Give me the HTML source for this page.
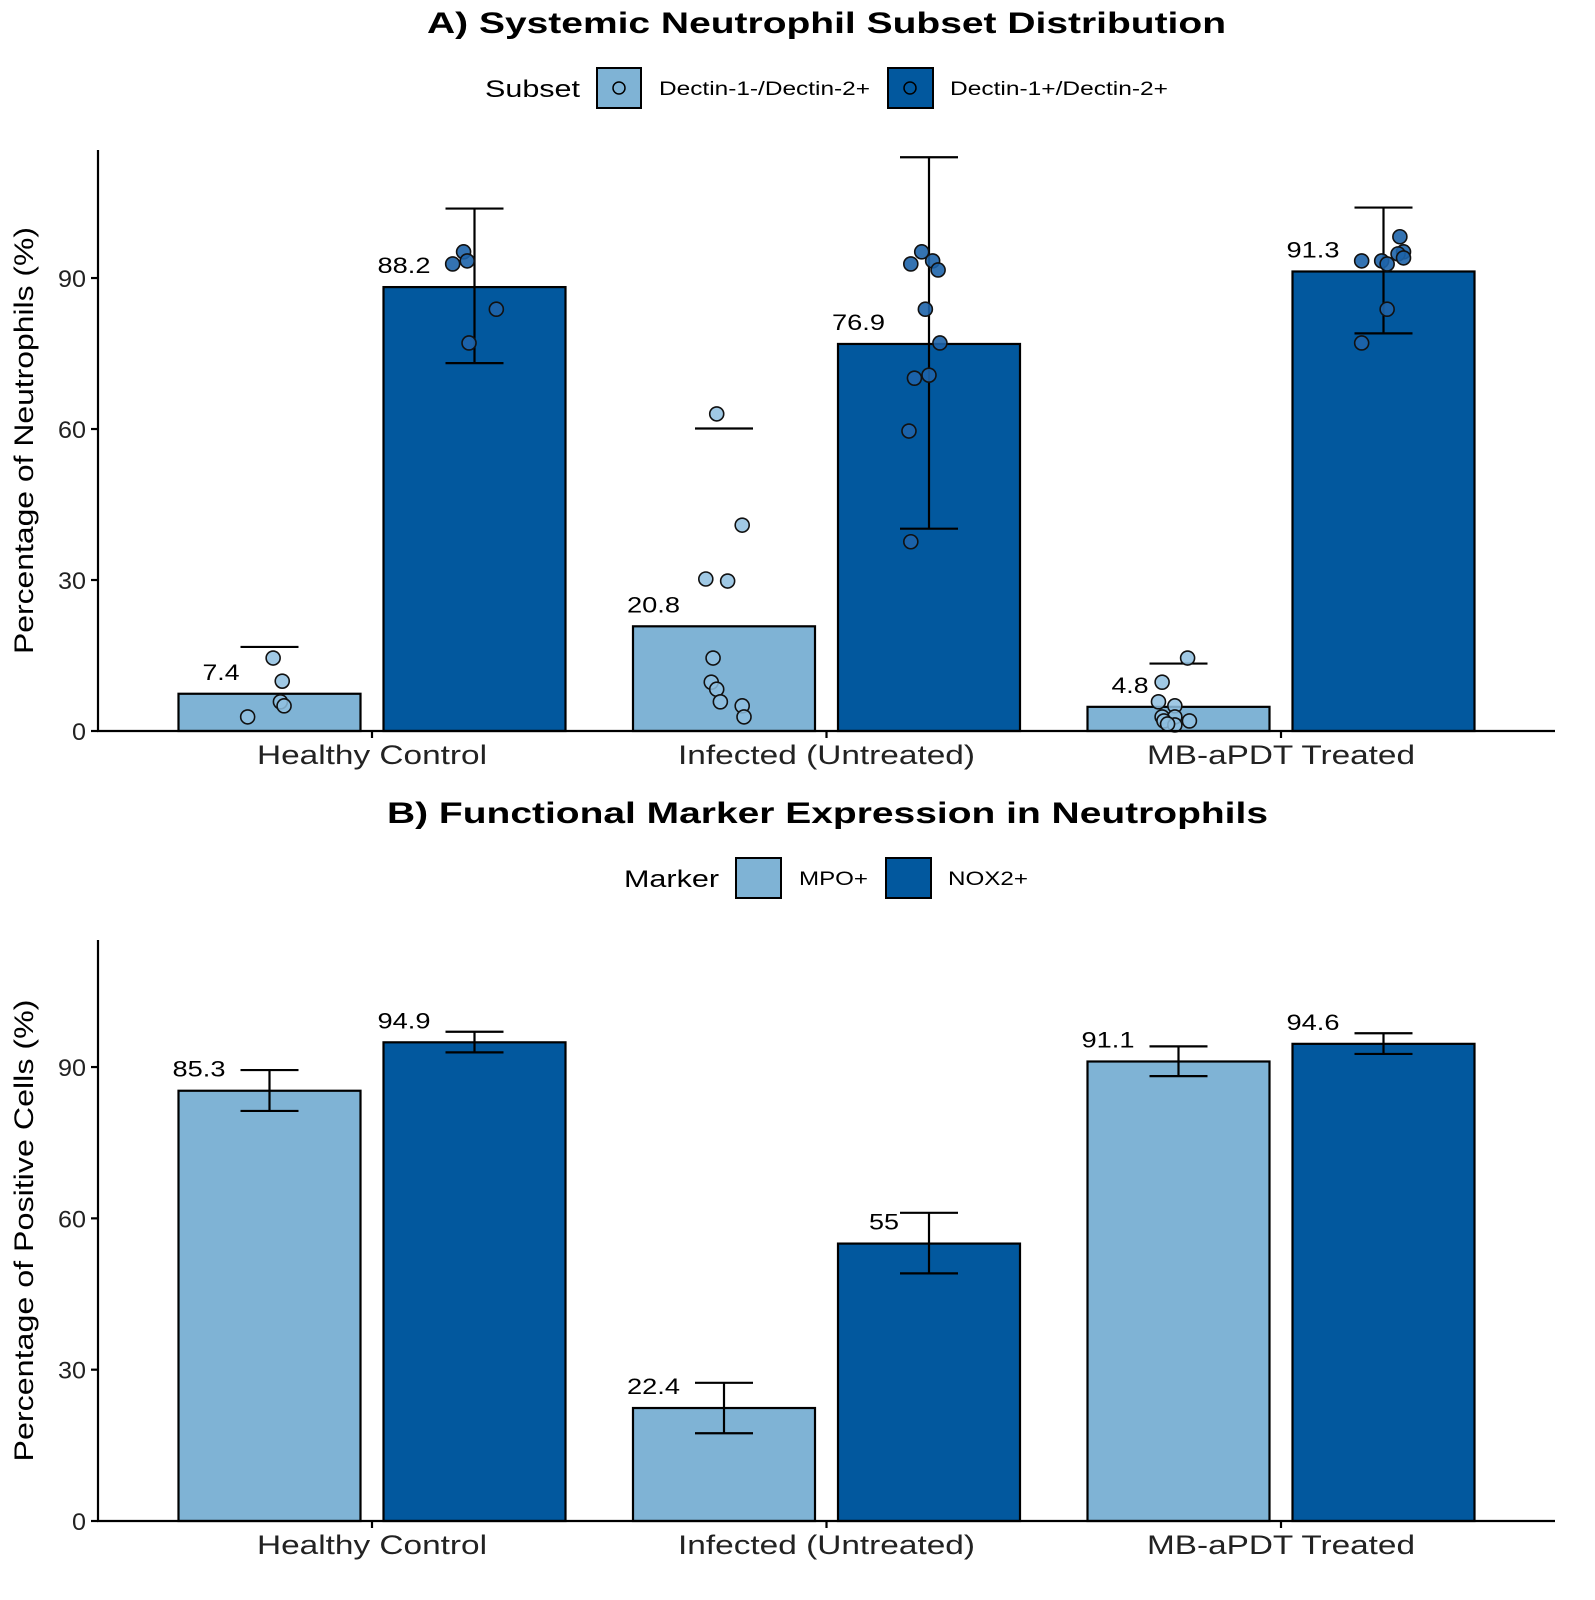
<!DOCTYPE html>
<html><head><meta charset="utf-8"><style>
body{margin:0;background:#fff}
svg{display:block;font-family:"Liberation Sans",Arial,sans-serif}
</style></head><body>
<svg id="chart" width="1595" height="1600" viewBox="0 0 1595 1600" xmlns="http://www.w3.org/2000/svg">
<text x="427" y="33" textLength="799" lengthAdjust="spacingAndGlyphs" font-size="30" font-weight="bold">A) Systemic Neutrophil Subset Distribution</text>
<g>
<text x="485" y="97" textLength="95" lengthAdjust="spacingAndGlyphs" font-size="24">Subset</text>
<rect x="597" y="68" width="44" height="40" fill="#7fb3d5" stroke="#000" stroke-width="2"/>
<circle cx="619" cy="88" r="6" fill="none" stroke="#000" stroke-width="1.5"/>
<text x="659" y="95" textLength="211" lengthAdjust="spacingAndGlyphs" font-size="19">Dectin-1-/Dectin-2+</text>
<rect x="888" y="68" width="45" height="40" fill="#02589e" stroke="#000" stroke-width="2"/>
<circle cx="910" cy="88" r="6" fill="none" stroke="#000" stroke-width="1.5"/>
<text x="950" y="95" textLength="218" lengthAdjust="spacingAndGlyphs" font-size="19">Dectin-1+/Dectin-2+</text>
</g>
<text x="387" y="823" textLength="881" lengthAdjust="spacingAndGlyphs" font-size="30" font-weight="bold">B) Functional Marker Expression in Neutrophils</text>
<g>
<text x="624" y="887" textLength="95" lengthAdjust="spacingAndGlyphs" font-size="24">Marker</text>
<rect x="736" y="858" width="45" height="40" fill="#7fb3d5" stroke="#000" stroke-width="2"/>
<text x="799" y="885" textLength="69" lengthAdjust="spacingAndGlyphs" font-size="19">MPO+</text>
<rect x="886" y="858" width="45" height="40" fill="#02589e" stroke="#000" stroke-width="2"/>
<text x="948" y="885" textLength="80" lengthAdjust="spacingAndGlyphs" font-size="19">NOX2+</text>
</g>
</svg>
<script>
const categories=["Healthy Control","Infected (Untreated)","MB-aPDT Treated"];
const yTicks=[0,30,60,90];
// Panel A
const aLightMean=[7.4,20.8,4.8];
const aLightLo=[-2,-18.4,-3.7];
const aLightHi=[16.7,60.1,13.4];
const aDarkMean=[88.2,76.9,91.3];
const aDarkLo=[73.1,40.2,79];
const aDarkHi=[103.8,114,104];
const aLightLabels=["7.4","20.8","4.8"];
const aDarkLabels=["88.2","76.9","91.3"];
const aLightPts=[[14.5,9.9,5.8,5,2.8],[63,40.9,30.2,29.8,14.5,9.7,8.3,5.8,5,2.8],[14.5,9.7,5.8,5,2.8,2.8,2,2,1.2,1.4]];
const aLightJit=[[0.02,0.07,0.06,0.08,-0.12],[-0.04,0.1,-0.1,0.02,-0.06,-0.07,-0.04,-0.02,0.1,0.11],[0.05,-0.09,-0.11,-0.02,-0.09,-0.02,0.06,-0.08,-0.02,-0.06]];
const aDarkPts=[[95.2,92.8,93.4,83.8,77.1],[95.2,92.8,93.4,91.6,83.8,77.1,70.1,70.7,59.6,37.6],[98.2,93.4,93.4,92.8,95.2,94.8,94,83.8,77.1]];
const aDarkJit=[[-0.06,-0.12,-0.04,0.12,-0.03],[-0.04,-0.1,0.02,0.05,-0.02,0.06,-0.08,0,-0.11,-0.1],[0.09,-0.12,-0.01,0.02,0.11,0.08,0.11,0.02,-0.12]];
// Panel B
const bLightMean=[85.3,22.4,91.1];
const bLightLo=[81.3,17.4,88.2];
const bLightHi=[89.4,27.4,94.1];
const bDarkMean=[94.9,55,94.6];
const bDarkLo=[92.9,49.1,92.6];
const bDarkHi=[97,61.1,96.7];
const bLightLabels=["85.3","22.4","91.1"];
const bDarkLabels=["94.9","55","94.6"];

const NS="http://www.w3.org/2000/svg";
const svg=document.getElementById('chart');
const LIGHT="#7fb3d5",DARK="#02589e";
function mk(tag,attrs,parent){const e=document.createElementNS(NS,tag);for(const k in attrs)e.setAttribute(k,attrs[k]);(parent||svg).appendChild(e);return e;}
const x0=98,x1=1555,groupW=454.5,barW=182,off=102.5;
const xLabelW=[230,297,268];
function xCenter(i){return 372+i*groupW;}

function panel(p,y0,pxPerUnit,yTop,yTitle,yTitleLen,lm,llo,lhi,dm,dlo,dhi,llab,dlab,pts){
  const yS=v=>y0-v*pxPerUnit;
  const g=mk('g',{});
  
  
  for(let i=0;i<categories.length;i++){
    const c=xCenter(i);
    [[lm,llo,lhi,llab,LIGHT,-off,'light'],[dm,dlo,dhi,dlab,DARK,off,'dark']].forEach(([m,lo,hi,lab,col,o,nm])=>{
      const cx=c+o;
      const r=mk('rect',{x:cx-barW/2,y:yS(m[i]),width:barW,height:yS(0)-yS(m[i]),fill:col,stroke:'#000','stroke-width':2.2},g);
      
      
      const eb=mk('g',{stroke:'#000','stroke-width':2.2},g);
      
      
      if(lo[i]>=0){
        mk('line',{x1:cx,x2:cx,y1:yS(lo[i]),y2:yS(hi[i])},eb);
        mk('line',{x1:cx-29,x2:cx+29,y1:yS(lo[i]),y2:yS(lo[i])},eb);
      }
      mk('line',{x1:cx-29,x2:cx+29,y1:yS(hi[i]),y2:yS(hi[i])},eb);
      const len=lab[i].length;
      const t=mk('text',{x:cx-(len>=4?44:30),y:yS(m[i])-14,'text-anchor':'end','font-size':22,textLength:(len>=4?53:len===3?37:30),lengthAdjust:'spacingAndGlyphs'},g);
      t.textContent=lab[i];
      
      
    });
  }
  if(pts){
    [[pts[0],pts[1],-off,'rgba(143,192,224,0.85)','light'],[pts[2],pts[3],off,'rgba(30,100,170,0.9)','dark']].forEach(([vals,jit,o,fill,nm])=>{
      vals.forEach((arr,i)=>arr.forEach((v,j)=>{
        const pt=mk('circle',{cx:xCenter(i)+o+jit[i][j]*barW,cy:yS(v),r:7,fill:fill,stroke:'#111','stroke-width':1.6},g);
        
        
      }));
    });
  }
  const ax=mk('g',{stroke:'#000','stroke-width':2.2},g);
  
  
  mk('line',{x1:x0,x2:x0,y1:yTop,y2:y0+1},ax);
  mk('line',{x1:x0-1,x2:x1,y1:y0,y2:y0},ax);
  yTicks.forEach(v=>{
    mk('line',{x1:x0-7,x2:x0,y1:yS(v),y2:yS(v)},ax);
    const s=String(v);
    const t=mk('text',{x:x0-12,y:yS(v)+9,'text-anchor':'end','font-size':24,fill:'#222',textLength:s.length*14,lengthAdjust:'spacingAndGlyphs'},g);
    t.textContent=s;
    
    
  });
  categories.forEach((c,i)=>{
    mk('line',{x1:xCenter(i),x2:xCenter(i),y1:y0,y2:y0+7},ax);
    const t=mk('text',{x:xCenter(i)-xLabelW[i]/2,y:y0+33,'font-size':27,fill:'#222',textLength:xLabelW[i],lengthAdjust:'spacingAndGlyphs'},g);
    t.textContent=c;
    
    
  });
  const cy=(yTop+y0)/2;
  const yt=mk('text',{x:-yTitleLen/2,y:0,'font-size':27,textLength:yTitleLen,lengthAdjust:'spacingAndGlyphs',transform:'translate(33,'+cy+') rotate(-90)'},g);
  yt.textContent=yTitle;
  
  
}
panel('a',731,5.033,150,'Percentage of Neutrophils (%)',427,aLightMean,aLightLo,aLightHi,aDarkMean,aDarkLo,aDarkHi,aLightLabels,aDarkLabels,[aLightPts,aLightJit,aDarkPts,aDarkJit]);
panel('b',1521,5.044,940,'Percentage of Positive Cells (%)',462,bLightMean,bLightLo,bLightHi,bDarkMean,bDarkLo,bDarkHi,bLightLabels,bDarkLabels,null);
</script>
</body></html>
